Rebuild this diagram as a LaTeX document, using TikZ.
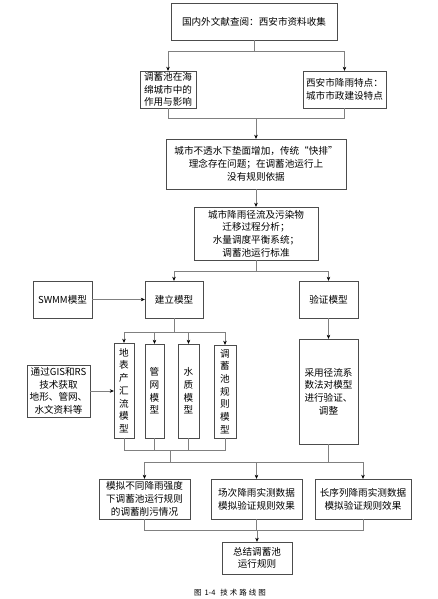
\documentclass[tikz,border=0pt]{standalone}
\usepackage{fontspec}
\newfontfamily\cjk{Noto Sans CJK SC}
\usepackage{tikz}
\usetikzlibrary{arrows.meta, calc}

\tikzset{
  box/.style={draw=black!70, align=center, inner sep=1pt,
    font=\cjk\fontsize{9.6}{12.7}\selectfont},
  link/.style={draw=black!50},
}

\begin{document}
\begin{tikzpicture}[x=1pt, y=-1pt, > = {Stealth[length=4pt, width=3.5pt, black]}]
  \useasboundingbox (0,0) rectangle (438,599);

  % boxes in the main column
  \node [box, minimum width=166, minimum height=37] (lit) at (254,21.5) {国内外文献查阅：西安市资料收集};
  \node [box, minimum width=56, minimum height=37] (role) at (168,89.5) {调蓄池在海\\绵城市中的\\作用与影响};
  \node [box, minimum width=83, minimum height=37] (rain) at (344.5,89.5) {西安市降雨特点：\\城市市政建设特点};
  \node [box, minimum width=180, minimum height=50] (prob) at (256,164) {城市不透水下垫面增加，传统“快排”\\理念存在问题；在调蓄池运行上\\没有规则依据};
  \node [box, minimum width=124, minimum height=53] (ana) at (256,233.5) {城市降雨径流及污染物\\迁移过程分析；\\水量调度平衡系统；\\调蓄池运行标准};

  % model level
  \node [box, minimum width=59, minimum height=37] (swmm) at (62.5,299.5) {SWMM模型};
  \node [box, minimum width=58, minimum height=37] (build) at (174,299.5) {建立模型};
  \node [box, minimum width=59, minimum height=37] (veri) at (328.5,299.5) {验证模型};
  \node [box, minimum width=59, minimum height=105] (coef) at (328.5,391.5) {采用径流系\\数法对模型\\进行验证、\\调整};
  \node [box, minimum width=63, minimum height=52] (gis) at (58.5,391) {通过GIS和RS\\技术获取\\地形、管网、\\水文资料等};

  % sub models
  \node [box, minimum width=20, minimum height=95] (m1) at (124,390.5) {地\\表\\产\\汇\\流\\模\\型};
  \node [box, minimum width=19, minimum height=94] (m2) at (154.5,391) {管\\网\\模\\型};
  \node [box, minimum width=21, minimum height=94] (m3) at (188.5,391) {水\\质\\模\\型};
  \node [box, minimum width=22, minimum height=93] (m4) at (225,391.5) {调\\蓄\\池\\规\\则\\模\\型};

  % simulations
  \node [box, minimum width=91, minimum height=40] (sa) at (144.5,499) {模拟不同降雨强度\\下调蓄池运行规则\\的调蓄削污情况};
  \node [box, minimum width=91, minimum height=40] (sb) at (256.5,499) {场次降雨实测数据\\模拟验证规则效果};
  \node [box, minimum width=96, minimum height=40] (sc) at (363,499) {长序列降雨实测数据\\模拟验证规则效果};
  \node [box, minimum width=70, minimum height=32] (sum) at (257,558) {总结调蓄池\\运行规则};

  \node [font=\cjk\fontsize{7.5}{9}\selectfont] (cap) at (230,593)
    {图\hspace{3pt}1-4\hspace{5pt}技\hspace{2pt}术\hspace{2pt}路\hspace{2pt}线\hspace{2pt}图};

  % connectors
  \draw [link] (lit.south) -- ++(0,11) coordinate (j1);
  \draw [link, ->] (j1) -| (role.north);
  \draw [link, ->] (j1) -| (rain.north);

  \draw [link] (role.south) -- ++(0,10) coordinate (j2) -| (rain.south);
  \draw [link, ->] (j2 -| prob.north) -- (prob.north);
  \draw [link, ->] (prob) -- (ana);

  \draw [link] (ana.south) -- ++(0,11) coordinate (j3);
  \draw [link, ->] (j3) -| (build.north);
  \draw [link, ->] (j3) -| (veri.north);
  \draw [link, ->] (swmm) -- (build);
  \draw [link, ->] (veri) -- (coef);

  \draw [link] (build.south) -- ++(0,14) coordinate (j4);
  \foreach \m in {m1, m2, m3, m4}
    \draw [link, ->] (j4) -| (\m.north);
  \draw [link, ->] (gis.east) -- (gis.east -| m1.west);

  \draw [link] (m1.south) -- ++(0,12) coordinate (j5) -| (m4.south);
  \draw [link] (m2.south) -- (m2.south |- j5);
  \draw [link] (m3.south) -- (m3.south |- j5);
  \coordinate (j5c) at ($(m2.south |- j5)!0.45!(m3.south |- j5)$);
  \draw [link] (j5c) -- ++(0,12) coordinate (j6);
  \draw [link, ->] (j6) -| (sa.north);
  \draw [link, ->] (j6) -| (sc.north);
  \draw [link, ->] (sb.north |- j6) -- (sb.north);
  \draw [link] (coef.south) -- (coef.south |- j6);

  \draw [link] (sa.south) -- ++(0,11) coordinate (j7) -| (sc.south);
  \draw [link] (sb.south) -- (sb.south |- j7);
  \draw [link, ->] (sum.north |- j7) -- (sum.north);
\end{tikzpicture}
\end{document}
